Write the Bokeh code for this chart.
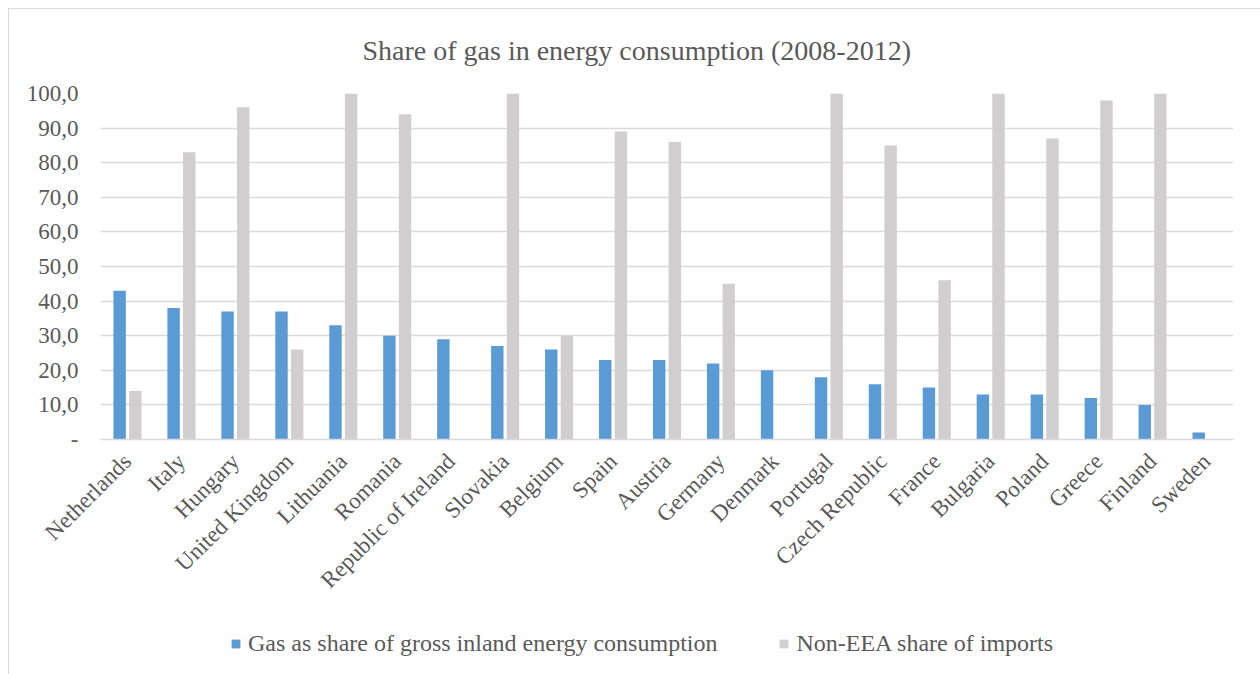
import math
from bokeh.plotting import figure
from bokeh.layouts import column
from bokeh.models import FactorRange, Range1d, Legend, LegendItem, FixedTicker, ColumnDataSource
from bokeh.transform import dodge
from bokeh.embed import file_html
from bokeh.resources import INLINE

countries = ["Netherlands", "Italy", "Hungary", "United Kingdom", "Lithuania", "Romania",
             "Republic of Ireland", "Slovakia", "Belgium", "Spain", "Austria", "Germany",
             "Denmark", "Portugal", "Czech Republic", "France", "Bulgaria", "Poland",
             "Greece", "Finland", "Sweden"]
gas_share = [43, 38, 37, 37, 33, 30, 29, 27, 26, 23, 23, 22, 20, 18, 16, 15, 13, 13, 12, 10, 2]
non_eea_share = [14, 83, 96, 26, 100, 94, 0, 100, 30, 89, 86, 45, 0, 100, 85, 46, 100, 87, 98, 100, 0]
y_ticks = [0, 10, 20, 30, 40, 50, 60, 70, 80, 90, 100]
y_tick_labels = ["-", "10,0", "20,0", "30,0", "40,0", "50,0", "60,0", "70,0", "80,0", "90,0", "100,0"]
title_text = "Share of gas in energy consumption (2008-2012)"
series_names = ["Gas as share of gross inland energy consumption", "Non-EEA share of imports"]

FONT = "Liberation Serif"
TXT = "#595959"
GRID = "#d9d9d9"
BLUE = "#5b9bd5"
GREY = "#d0cece"

src = ColumnDataSource(dict(country=countries, gas=gas_share, noneea=non_eea_share))

p = figure(x_range=FactorRange(*countries), y_range=Range1d(0, 100),
           width=1251, height=601, output_backend="svg", toolbar_location=None,
           min_border_left=91, min_border_right=27, min_border_top=84, min_border_bottom=171)

p.vbar(x=dodge("country", -0.145, range=p.x_range), top="gas", width=0.23,
       fill_color=BLUE, line_color=None, source=src)
p.vbar(x=dodge("country", 0.145, range=p.x_range), top="noneea", width=0.23,
       fill_color=GREY, line_color=None, source=src)

p.title.text = title_text
p.title.text_font = FONT
p.title.text_font_size = "28px"
p.title.text_font_style = "normal"
p.title.text_color = TXT
p.title.align = "left"
p.title.vertical_align = "top"
p.title.offset = 262
p.title.standoff = 51

p.yaxis.ticker = FixedTicker(ticks=y_ticks)
p.yaxis.major_label_overrides = {t: l for t, l in zip(y_ticks, y_tick_labels)}
p.yaxis.axis_line_color = None
p.yaxis.major_tick_line_color = None
p.yaxis.minor_tick_line_color = None
p.yaxis.major_label_standoff = 16
p.yaxis.major_label_text_font = FONT
p.yaxis.major_label_text_font_size = "23px"
p.yaxis.major_label_text_color = TXT

p.xaxis.axis_line_color = GRID
p.xaxis.axis_line_width = 1.3
p.xaxis.major_tick_line_color = None
p.xaxis.minor_tick_line_color = None
p.xaxis.major_label_orientation = math.pi / 4
p.xaxis.major_label_standoff = 12
p.xaxis.major_label_text_font = FONT
p.xaxis.major_label_text_font_size = "23px"
p.xaxis.major_label_text_color = TXT

p.xgrid.grid_line_color = None
p.ygrid.grid_line_color = GRID
p.ygrid.grid_line_width = 1.3
p.outline_line_color = None

# legend strip (bars drawn here fall outside its visible y range; only the legend shows)
pl = figure(width=1251, height=64, x_range=FactorRange(*countries), y_range=Range1d(1000, 1001),
            x_axis_type=None, y_axis_type=None, output_backend="svg", toolbar_location=None,
            min_border=0)
pl.grid.visible = False
pl.outline_line_color = None
lr1 = pl.vbar(x="country", top="gas", width=0.23, fill_color=BLUE, line_color=None, source=src)
lr2 = pl.vbar(x="country", top="noneea", width=0.23, fill_color=GREY, line_color=None, source=src)
legend = Legend(items=[LegendItem(label=series_names[0], renderers=[lr1]),
                       LegendItem(label=series_names[1], renderers=[lr2])],
                orientation="horizontal", location=(130, 17), padding=0, margin=0,
                spacing=61, label_standoff=7, glyph_width=11, glyph_height=11,
                label_text_font=FONT, label_text_font_size="24px", label_text_color=TXT,
                border_line_color=None, background_fill_alpha=0)
pl.add_layout(legend, "center")

lay = column(p, pl, spacing=0)
lay.margin = (8, 0, 0, 8)
lay.styles = {"border-left": "1px solid #d9d9d9", "border-top": "1px solid #d9d9d9"}

open("out.html", "w").write(file_html(lay, INLINE))
